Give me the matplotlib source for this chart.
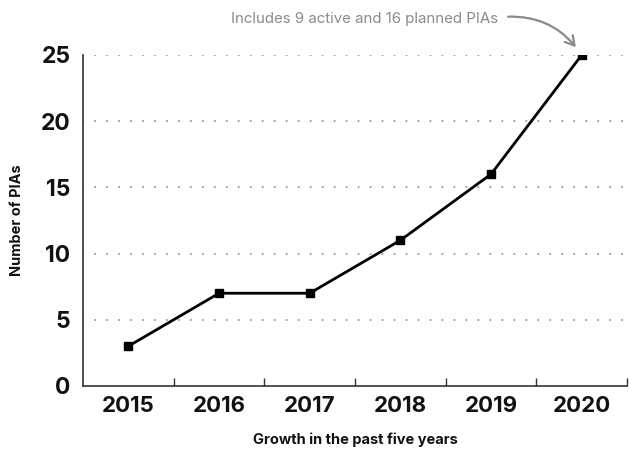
import matplotlib.pyplot as plt

plt.rcParams["font.family"] = ["Inter", "DejaVu Sans"]

years = ["2015", "2016", "2017", "2018", "2019", "2020"]
pias = [3, 7, 7, 11, 16, 25]
yticks = [0, 5, 10, 15, 20, 25]
note = "Includes 9 active and 16 planned PIAs"

fig = plt.figure(figsize=(6.29, 4.54), dpi=100)
ax = fig.add_axes([0.132, 0.150, 0.865, 0.729])

x = range(len(years))
ax.plot(x, pias, color="black", lw=2, marker="s", markersize=5.5, zorder=3)

# dotted gridlines above zero
for v in yticks[1:]:
    ax.axhline(v, color="#9a9a9a", lw=1.5, ls=(0, (0.05, 5.7)),
               dash_capstyle="round", zorder=1)

ax.set_xlim(-0.5, len(years) - 0.5)
ax.set_ylim(0, 25)
ax.set_xticks(list(x))
ax.set_xticklabels(years)
ax.set_yticks(yticks)
ax.set_xticks([i + 0.5 for i in x], minor=True)
ax.tick_params(axis="x", which="major", length=0, pad=7,
               labelsize=16, labelcolor="#111111")
ax.tick_params(axis="x", which="minor", direction="in", length=6,
               width=1, color="#333333")
ax.tick_params(axis="y", length=0, pad=9, labelsize=16.5, labelcolor="#111111")
for lab in ax.get_xticklabels() + ax.get_yticklabels():
    lab.set_fontweight("bold")

for s in ["top", "right"]:
    ax.spines[s].set_visible(False)
for s in ["left", "bottom"]:
    ax.spines[s].set_color("#333333")
    ax.spines[s].set_linewidth(1.2)

ax.set_ylabel("Number of PIAs", fontsize=10.5, fontweight="bold",
              color="#111111", labelpad=12)
ax.set_xlabel("Growth in the past five years", fontsize=10.5,
              fontweight="bold", color="#111111", labelpad=12)

ax.annotate(note, xy=(5, 25), xytext=(-60, 26), textcoords="offset points",
            ha="right", va="center", fontsize=10.8, color="#8a8a8a",
            annotation_clip=False,
            arrowprops=dict(arrowstyle="->,head_length=0.6,head_width=0.35",
                            color="#8a8a8a", lw=1.6,
                            connectionstyle="arc3,rad=-0.3",
                            relpos=(1, 0.6), shrinkA=5, shrinkB=7))

fig.savefig("out.png", dpi=100)
